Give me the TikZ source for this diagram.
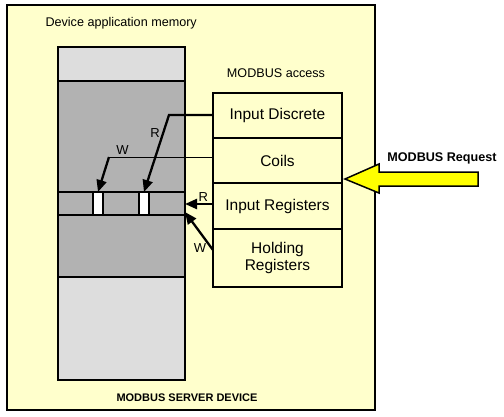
\documentclass[tikz,border=0pt]{standalone}
\usepackage{fontspec}
\setmainfont{Liberation Sans}
\usetikzlibrary{positioning,arrows.meta}
\definecolor{devicebg}{RGB}{255,255,204}
\definecolor{memdark}{RGB}{178,178,178}
\definecolor{memlight}{RGB}{221,221,221}
\definecolor{request}{RGB}{255,255,0}
\tikzstyle{area}=[draw, line width=2pt, inner sep=0pt, outer sep=0pt, minimum width=129pt, align=center, font=\fontsize{15.5}{17.5}\selectfont]
\tikzset{access/.style={line width=2.3pt, -{Triangle[length=12pt,width=10pt]}}}
\tikzset{cell/.style={draw, fill=white, line width=2.5pt, minimum width=10pt, minimum height=23pt, inner sep=0pt, outer sep=0pt}}
\tikzset{rw/.style={font=\fontsize{13}{15}\selectfont, inner sep=0pt}}

\begin{document}
\begin{tikzpicture}[x=1pt,y=-1pt]
  \useasboundingbox (0,0) rectangle (504,416);
  \draw[line width=2pt, fill=devicebg] (7,5) rectangle (375,410);
  \node[anchor=west, font=\fontsize{12.6}{14}\selectfont] (devlabel) at (42,23) {Device application memory};
  \node[font=\bfseries\fontsize{11}{13}\selectfont] (server) at (187,398) {MODBUS SERVER DEVICE};

  %% Memory
  \draw[line width=2pt, fill=memlight] (58,47) rectangle (185,380);
  \draw[line width=2pt, fill=memdark] (58,81) rectangle (185,277);
  \draw[line width=2pt] (58,192) -- (185,192) (58,215) -- (185,215);
  \coordinate (band) at (185,204);
  \node[cell] (cell1) at (98,203.5) {};
  \node[cell] (cell2) at (144,203.5) {};

  %% Access tables
  \node[font=\fontsize{12.6}{14}\selectfont] (access) at (276,73) {MODBUS access};
  \node[area, minimum height=45pt, anchor=north west] (disc) at (213,93) {Input Discrete};
  \node[area, minimum height=45pt, below=0pt of disc] (coils) {Coils};
  \node[area, minimum height=46pt, below=0pt of coils] (ireg) {Input Registers};
  \node[area, minimum height=58pt, below=0pt of ireg] (hreg) {Holding\\Registers};

  %% Read / write
  \coordinate (rbend) at (169,115);
  \coordinate (wbend) at (109,157);
  \draw[access] (disc.west |- rbend) -- (rbend) -- (cell2.north);
  \node[rw] (r1) at (155,133) {R};
  \draw[line width=1pt] (coils.west |- wbend) -- (wbend) node[rw, pos=.87, above=2pt] (w1) {W};
  \draw[access] (wbend) -- (cell1.north);
  \draw[access] (ireg.west |- band) -- (band) node[rw, pos=.35, above=1pt] (r2) {R};
  \draw[access] ([yshift=8pt]hreg.west) -- ([yshift=-8pt]band) node[rw, pos=.2, below left=0pt] (w2) {W};

  %% Request
  \draw[line width=1.5pt, fill=request] (345,179) -- (379,164) -- (379,172) -- (478,172) -- (478,186) -- (379,186) -- (379,193) -- cycle;
  \node[font=\bfseries\fontsize{12.6}{14}\selectfont] (req) at (442,158) {MODBUS Request};
\end{tikzpicture}
\end{document}
